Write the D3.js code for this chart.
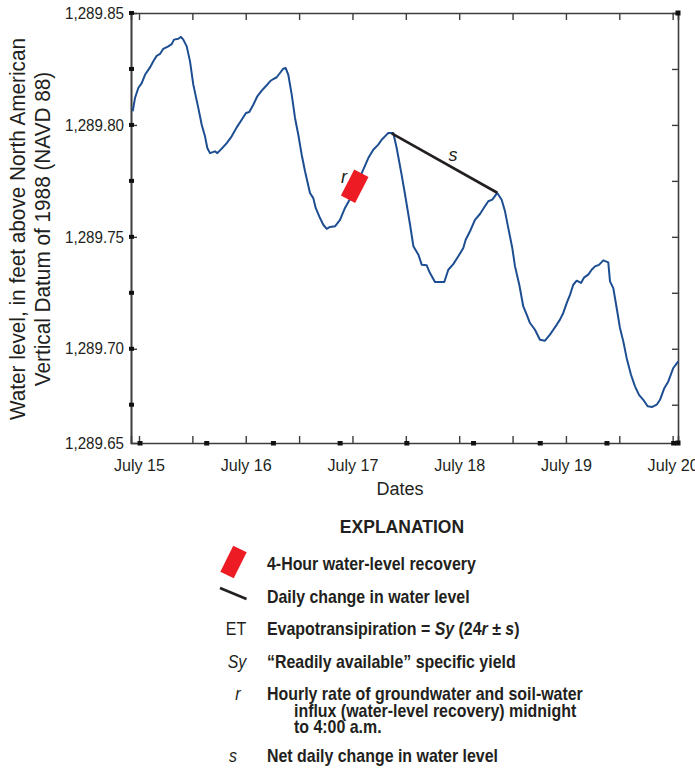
<!DOCTYPE html>
<html>
<head>
<meta charset="utf-8">
<script src="https://cdn.jsdelivr.net/npm/d3@7"></script>
<style>
  html, body { margin: 0; padding: 0; background: #fff; }
  svg text { font-family: "Liberation Sans", Arial, sans-serif; fill: #231f20; }
</style>
</head>
<body>
<svg id="chart" width="695" height="769"></svg>
<script>
// Observed water level, hours after midnight July 15, and level in feet (NAVD 88)
const obsHours = [
  -1.42, -0.90, -0.16, 0.61, 1.35, 2.47, 3.22, 3.98, 4.72, 5.46, 6.59, 7.35, 7.87, 8.84, 9.44,
  9.96, 10.73, 11.47, 12.21, 13.33, 14.10, 14.84, 15.36, 15.96, 17.09, 17.61, 18.60, 19.72,
  20.84, 21.97, 23.09, 24.06, 24.80, 25.70, 26.60, 27.59, 28.71, 29.46, 30.20, 30.96, 31.70,
  32.45, 32.99, 33.57, 34.34, 35.08, 35.82, 36.58, 37.33, 38.45, 39.19, 39.73, 40.70, 41.44,
  42.21, 42.95, 44.07, 45.20, 46.32, 47.44, 48.57, 49.69, 50.43, 51.56, 52.68, 53.81, 54.57,
  55.47, 56.06, 57.18, 57.94, 59.07, 59.84, 60.96, 61.70, 62.83, 63.59, 64.69, 65.43, 66.56,
  68.65, 69.55, 70.67, 71.80, 72.92, 73.46, 74.43, 75.55, 76.67, 77.64, 78.54, 79.44, 80.56,
  81.55, 82.30, 83.04, 83.94, 84.55, 85.51, 86.41, 87.18, 87.92, 89.04, 90.16, 91.29, 92.41,
  93.16, 93.92, 94.66, 95.40, 96.17, 96.91, 97.65, 98.42, 99.38, 100.12, 101.02, 101.79,
  102.53, 103.43, 104.40, 105.52, 105.91, 106.65, 107.41, 108.15, 108.90, 109.66, 110.63,
  111.53, 112.43, 113.39, 114.38, 115.42, 116.41, 117.15, 118.12, 119.02, 120.14, 121.27
];
const obsLevels = [
  1289.8061, 1289.8120, 1289.8165, 1289.8187, 1289.8224, 1289.8257, 1289.8284, 1289.8309,
  1289.8317, 1289.8340, 1289.8351, 1289.8361, 1289.8381, 1289.8385, 1289.8393,
  1289.8381, 1289.8351, 1289.8284, 1289.8180, 1289.8076, 1289.8001, 1289.7949, 1289.7897,
  1289.7874, 1289.7882, 1289.7874, 1289.7894, 1289.7919,
  1289.7949, 1289.7989, 1289.8023, 1289.8053, 1289.8058, 1289.8090, 1289.8128, 1289.8153,
  1289.8177, 1289.8195, 1289.8205, 1289.8213, 1289.8232,
  1289.8251, 1289.8254, 1289.8224, 1289.8135, 1289.8031, 1289.7956, 1289.7867, 1289.7793,
  1289.7696, 1289.7673, 1289.7629, 1289.7584, 1289.7554,
  1289.7536, 1289.7544, 1289.7547, 1289.7576, 1289.7629, 1289.7669, 1289.7718, 1289.7767,
  1289.7800, 1289.7852, 1289.7889, 1289.7912, 1289.7934,
  1289.7952, 1289.7964, 1289.7964, 1289.7897, 1289.7776, 1289.7687, 1289.7553, 1289.7458,
  1289.7420, 1289.7375, 1289.7373, 1289.7338, 1289.7298,
  1289.7298, 1289.7353, 1289.7378, 1289.7413, 1289.7450, 1289.7487, 1289.7525, 1289.7576,
  1289.7602, 1289.7632, 1289.7659, 1289.7666, 1289.7696,
  1289.7666, 1289.7614, 1289.7539, 1289.7450, 1289.7368, 1289.7286, 1289.7189, 1289.7152,
  1289.7115, 1289.7085, 1289.7040, 1289.7036, 1289.7063,
  1289.7085, 1289.7107, 1289.7130, 1289.7160, 1289.7204, 1289.7241, 1289.7286, 1289.7304,
  1289.7294, 1289.7319, 1289.7331, 1289.7353,
  1289.7368, 1289.7375, 1289.7395, 1289.7386, 1289.7301, 1289.7271, 1289.7182, 1289.7093,
  1289.7033, 1289.6958, 1289.6884,
  1289.6832, 1289.6794, 1289.6772, 1289.6743, 1289.6740, 1289.6750, 1289.6772, 1289.6824,
  1289.6854, 1289.6914, 1289.6944
];

// Daily change (s): line between successive daily highs
const sHours = [56.82, 80.56];
const sLevels = [1289.7962, 1289.7697];

// Early-morning recovery segment (r)
const rHours = [47.0, 50.0];
const rLevels = [1289.7668, 1289.7784];

// Axis extents and ticks
const xDomainHours = [-1.8, 121.2];
const yDomain = [1289.6579, 1289.85];
const dayHours = [0, 24, 48, 72, 96, 120];
const dayLabels = ["July 15", "July 16", "July 17", "July 18", "July 19", "July 20"];
const halfDayHours = [0, 12, 24, 36, 48, 60, 72, 84, 96, 108, 120];
const yTickValues = [1289.85, 1289.80, 1289.75, 1289.70, 1289.6579];
const yTickLabels = ["1,289.85", "1,289.80", "1,289.75", "1,289.70", "1,289.65"];
const yMajorInner = [1289.80, 1289.75, 1289.70];
const yQuarterSteps = [1289.85, 1289.825, 1289.80, 1289.775, 1289.75, 1289.725, 1289.70, 1289.675];
const xMarkerHours = [0, 15, 30, 45, 60, 75, 90, 105, 120];

const svg = d3.select("#chart");
const plot = { left: 131, right: 678, top: 13, bottom: 443 };

const x = d3.scaleLinear().domain(xDomainHours).range([plot.left, plot.right]);
const y = d3.scaleLinear().domain(yDomain).range([plot.bottom, plot.top]);

const frameColor = "#3d3d3d";

// Condensed-looking text: horizontal squeeze around the anchor point
function squeeze(sel, k) {
  sel.each(function () {
    const t = d3.select(this);
    const tx = +t.attr("x") || 0;
    t.attr("x", 0).attr("transform", `translate(${tx},0) scale(${k},1)`);
  });
}
function label(parent, px, py, str, o = {}) {
  const t = parent.append("text")
    .attr("transform", `translate(${px},${py})${o.rotate ? ` rotate(${o.rotate})` : ""} scale(${o.k || 1},1)`)
    .attr("text-anchor", o.anchor || "start")
    .style("font-size", (o.size || 17) + "px")
    .style("font-weight", o.weight || "normal")
    .style("font-style", o.style || "normal");
  if (str !== null) t.text(str);
  return t;
}

// Left axis with labels, short inward ticks at major values
const gLeft = svg.append("g").attr("transform", `translate(${plot.left},0)`)
  .call(d3.axisLeft(y).tickValues(yTickValues).tickSize(0).tickPadding(7)
    .tickFormat((d, i) => yTickLabels[i]));
gLeft.selectAll("text").style("font-size", "16.3px").call(squeeze, 0.93);
svg.append("g").attr("transform", `translate(${plot.left},0)`)
  .call(d3.axisLeft(y).tickValues(yMajorInner).tickSize(-6).tickFormat(""));

// Right axis: inward ticks every 0.025 ft
svg.append("g").attr("transform", `translate(${plot.right},0)`)
  .call(d3.axisRight(y).tickValues(yQuarterSteps.slice(1)).tickSize(-6).tickFormat(""));

// Bottom axis: half-day ticks, day labels
const gBottom = svg.append("g").attr("transform", `translate(0,${plot.bottom})`)
  .call(d3.axisBottom(x).tickValues(halfDayHours).tickSize(-7).tickPadding(16)
    .tickFormat(d => { const i = dayHours.indexOf(d); return i >= 0 ? dayLabels[i] : ""; }));
gBottom.selectAll("text").style("font-size", "16.3px").call(squeeze, 0.99);

// Top axis
svg.append("g").attr("transform", `translate(0,${plot.top})`)
  .call(d3.axisTop(x).tickValues(halfDayHours).tickSize(-7).tickFormat(""));

svg.selectAll(".domain").attr("stroke", frameColor).attr("stroke-width", 1.6);
svg.selectAll(".tick line").attr("stroke", frameColor).attr("stroke-width", 1.4);
svg.selectAll(".tick text").attr("fill", "#231f20");

// Square markers along the frame
const sq = 5;
svg.append("g").selectAll("rect").data(yQuarterSteps).join("rect")
  .attr("x", plot.left - sq / 2 + 0.5).attr("y", d => y(d) - 2)
  .attr("width", sq).attr("height", 4).attr("fill", "#111");
svg.append("g").selectAll("rect").data(xMarkerHours).join("rect")
  .attr("x", d => x(d) - sq / 2 + 1).attr("y", plot.bottom - 2)
  .attr("width", sq).attr("height", 4.5).attr("fill", "#111");
svg.append("g").selectAll("rect").data([[plot.right, plot.top], [plot.right, plot.bottom]]).join("rect")
  .attr("x", d => d[0] - 2.5).attr("y", d => d[1] - 2.5)
  .attr("width", sq).attr("height", 5).attr("fill", "#111");

// Water-level hydrograph
const series = obsHours.map((h, i) => [h, obsLevels[i]]);
svg.append("path").datum(series)
  .attr("fill", "none").attr("stroke", "#1d4e92").attr("stroke-width", 2)
  .attr("stroke-linejoin", "round")
  .attr("d", d3.line().x(d => x(d[0])).y(d => y(d[1])));

// Daily change line (s)
svg.append("line")
  .attr("x1", x(sHours[0])).attr("y1", y(sLevels[0]))
  .attr("x2", x(sHours[1])).attr("y2", y(sLevels[1]))
  .attr("stroke", "#231f20").attr("stroke-width", 2.6);

// Recovery block (r): rectangle aligned with the rise
const rx1 = x(rHours[0]), ry1 = y(rLevels[0]), rx2 = x(rHours[1]), ry2 = y(rLevels[1]);
const rLen = Math.hypot(rx2 - rx1, ry2 - ry1);
const rAng = Math.atan2(ry2 - ry1, rx2 - rx1) * 180 / Math.PI;
const rThick = 16;
svg.append("rect")
  .attr("x", -rLen / 2).attr("y", -rThick / 2).attr("width", rLen).attr("height", rThick)
  .attr("fill", "#ed1c24")
  .attr("transform", `translate(${(rx1 + rx2) / 2},${(ry1 + ry2) / 2}) rotate(${rAng})`);

label(svg, 344, 183, "r", { size: 19, style: "italic", anchor: "middle", k: 0.95 });
label(svg, 453, 161, "s", { size: 19, style: "italic", anchor: "middle", k: 0.95 });

// Axis titles
const yTitleCy = 229;
label(svg, 25, yTitleCy, "Water level, in feet above North American",
  { size: 21.3, anchor: "middle", rotate: -90, k: 0.975 });
label(svg, 50, yTitleCy, "Vertical Datum of 1988 (NAVD 88)",
  { size: 21.3, anchor: "middle", rotate: -90, k: 0.975 });
label(svg, 400, 495, "Dates", { size: 18.6, anchor: "middle", k: 0.97 });

// Explanation
const lg = svg.append("g");
label(lg, 402, 533, "EXPLANATION", { size: 17.7, weight: "bold", anchor: "middle", k: 0.99 });

lg.append("rect").attr("x", -14.5).attr("y", -7.5).attr("width", 29).attr("height", 15)
  .attr("fill", "#ed1c24").attr("transform", "translate(233.5,562) rotate(-63.5)");
lg.append("line").attr("x1", 220).attr("y1", 588).attr("x2", 246.5).attr("y2", 599)
  .attr("stroke", "#231f20").attr("stroke-width", 2.6);

const textX = 267;
const lgSize = 18, lgK = 0.885;
const bold = (px, py, str) => label(lg, px, py, str, { size: lgSize, weight: "bold", k: lgK });
const sym = (px, py, str, italic) => label(lg, px, py, str,
  { size: lgSize, anchor: "middle", style: italic ? "italic" : "normal", k: lgK });

bold(textX, 570, "4-Hour water-level recovery");
bold(textX, 603, "Daily change in water level");

sym(236, 635, "ET", false);
const et = bold(textX, 635, null);
et.append("tspan").text("Evapotransipiration = ");
et.append("tspan").style("font-style", "italic").text("Sy");
et.append("tspan").text(" (24");
et.append("tspan").style("font-style", "italic").text("r");
et.append("tspan").text(" \u00B1 ");
et.append("tspan").style("font-style", "italic").text("s");
et.append("tspan").text(")");

sym(237, 668, "Sy", true);
bold(textX, 668, "\u201CReadily available\u201D specific yield");

sym(238, 700, "r", true);
bold(textX, 700, "Hourly rate of groundwater and soil-water");
bold(294, 716.5, "influx (water-level recovery) midnight");
bold(294, 733, "to 4:00 a.m.");

sym(233, 762, "s", true);
bold(textX, 762, "Net daily change in water level");
</script>
</body>
</html>
